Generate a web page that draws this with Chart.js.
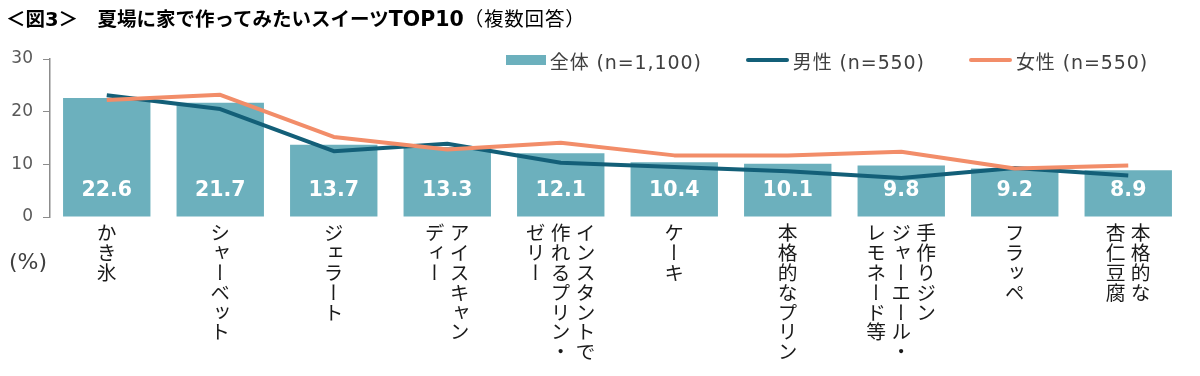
<!DOCTYPE html>
<html>
<head>
<meta charset="utf-8">
<script src="https://cdn.jsdelivr.net/npm/chart.js@4.4.1/dist/chart.umd.min.js"></script>
<style>
  html, body { margin:0; padding:0; background:#fff; }
  #wrap { position:relative; width:1200px; height:376px; overflow:hidden; }
  canvas { position:absolute; left:0; top:0; }
  #title { position:absolute; left:6px; top:6px; line-height:26px; font-size:19.5px; font-weight:bold; color:#000;
           font-family:"DejaVu Sans","Noto Sans CJK JP",sans-serif; white-space:nowrap; }
  #title .lat { font-size:20.5px; }
  #title .sub { font-weight:normal; letter-spacing:0.8px; }
  #legend { position:absolute; right:52px; top:47px; height:26px; display:flex; align-items:center; gap:44px;
            font-family:"DejaVu Sans","Noto Sans CJK JP",sans-serif; font-size:19px; letter-spacing:0.9px; color:#404040; white-space:nowrap; }
  #legend .item { display:flex; align-items:center; gap:4px; }
  #unit { position:absolute; left:9px; top:249px; font-family:"DejaVu Sans",sans-serif; font-size:22px; color:#404040; }
  .xl { position:absolute; top:223px; writing-mode:vertical-rl; font-family:"Noto Sans CJK JP",sans-serif;
        font-size:19.8px; line-height:25px; color:#1a1a1a; transform:translateX(-50%); white-space:nowrap; }
</style>
</head>
<body>
<div id="wrap">
  <canvas id="c" width="1200" height="376"></canvas>
  <div id="title">＜図3＞　夏場に家で作ってみたいスイーツ<span class="lat">TOP10</span><span class="sub">（複数回答）</span></div>
  <div id="legend"></div>
  <div id="unit">(%)</div>
</div>
<script>
const categories = [
  ["かき氷"],
  ["シャーベット"],
  ["ジェラート"],
  ["アイスキャン","ディー"],
  ["インスタントで","作れるプリン・","ゼリー"],
  ["ケーキ"],
  ["本格的なプリン"],
  ["手作りジン","ジャーエール・","レモネード等"],
  ["フラッペ"],
  ["本格的な","杏仁豆腐"]
];
const totalValues  = [22.6, 21.7, 13.7, 13.3, 12.1, 10.4, 10.1, 9.8, 9.2, 8.9];
const maleValues   = [23.1, 20.5, 12.5, 13.9, 10.3, 9.5, 8.7, 7.4, 9.3, 7.9];
const femaleValues = [22.2, 23.2, 15.2, 12.8, 14.1, 11.7, 11.7, 12.4, 9.2, 9.8];
const seriesNames  = ["全体 (n=1,100)", "男性 (n=550)", "女性 (n=550)"];
const yTicks = [0, 10, 20, 30];

const BAR = "#6cb0bd", MALE = "#135f78", FEMALE = "#f28d69";
const BAR_INDEX = 2;

const barLabels = {
  id: "barLabels",
  afterDatasetsDraw(chart) {
    const meta = chart.getDatasetMeta(BAR_INDEX);
    const ctx = chart.ctx;
    ctx.save();
    ctx.fillStyle = "#ffffff";
    ctx.font = "bold 20.5px 'DejaVu Sans'";
    ctx.textAlign = "center";
    ctx.textBaseline = "middle";
    meta.data.forEach((el, i) => {
      ctx.fillText(totalValues[i].toFixed(1), el.x, chart.chartArea.bottom - 26);
    });
    ctx.restore();
  }
};

const chart = new Chart(document.getElementById("c"), {
  type: "bar",
  data: {
    labels: categories,
    datasets: [
      { type:"line", label: seriesNames[2], data: femaleValues, borderColor: FEMALE, backgroundColor: FEMALE,
        borderWidth: 4, pointRadius: 0, tension: 0, order: 0, borderJoinStyle: "round", borderCapStyle: "butt" },
      { type:"line", label: seriesNames[1], data: maleValues, borderColor: MALE, backgroundColor: MALE,
        borderWidth: 4, pointRadius: 0, tension: 0, order: 1, borderJoinStyle: "round", borderCapStyle: "butt" },
      { type:"bar", label: seriesNames[0], data: totalValues, backgroundColor: BAR,
        barPercentage: 0.77, categoryPercentage: 1.0, order: 2 }
    ]
  },
  options: {
    responsive: false,
    devicePixelRatio: 1,
    animation: false,
    layout: { padding: { left: 0, right: 15, top: 59, bottom: 159 } },
    plugins: { legend: { display: false }, tooltip: { enabled: false }, title: { display: false } },
    scales: {
      x: { display: false, offset: true, grid: { display: false } },
      y: {
        min: 0, max: 30,
        afterFit(s) { s.width = 50; },
        afterBuildTicks(s) { s.ticks = yTicks.map(v => ({ value: v })); },
        ticks: { color: "#595959", padding: 10, font: { family: "DejaVu Sans", size: 17 } },
        grid: { drawOnChartArea: false, drawTicks: true, tickLength: 7, color: "#8c8c8c", lineWidth: 1 },
        border: { display: true, color: "#8c8c8c", width: 1.5 }
      }
    }
  },
  plugins: [barLabels]
});

// HTML legend from the series
const legend = document.getElementById("legend");
[[seriesNames[0], BAR, "box"], [seriesNames[1], MALE, "line"], [seriesNames[2], FEMALE, "line"]].forEach(([name, col, kind]) => {
  const it = document.createElement("div"); it.className = "item";
  const sw = document.createElement("span");
  if (kind === "box") { sw.style.cssText = `display:inline-block;width:40px;height:10px;background:${col}`; }
  else { sw.style.cssText = `display:inline-block;width:43px;height:4px;background:${col};border-radius:2px`; }
  const tx = document.createElement("span"); tx.textContent = name;
  it.appendChild(sw); it.appendChild(tx); legend.appendChild(it);
});

// vertical category labels positioned with the x scale
const wrap = document.getElementById("wrap");
categories.forEach((lines, i) => {
  const d = document.createElement("div"); d.className = "xl";
  d.style.left = chart.scales.x.getPixelForValue(i) + "px";
  lines.forEach((ln, k) => { if (k) d.appendChild(document.createElement("br")); d.appendChild(document.createTextNode(ln)); });
  wrap.appendChild(d);
});
</script>
</body>
</html>
